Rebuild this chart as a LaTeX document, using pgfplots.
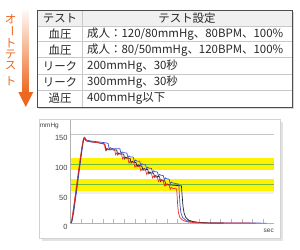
\documentclass[border=0pt]{standalone}
\usepackage{fontspec}
\setmainfont{Noto Sans CJK JP}
\newfontfamily\lat{Liberation Sans}
\usepackage{pgfplots}
\pgfplotsset{compat=1.18}
\definecolor{orA}{RGB}{236,104,32}
\definecolor{yel}{RGB}{255,242,0}
\definecolor{grn}{RGB}{110,190,60}
\definecolor{cred}{RGB}{235,45,45}
\definecolor{cblue}{RGB}{70,80,210}
\definecolor{cblk}{RGB}{35,35,35}
\definecolor{tline}{RGB}{200,200,200}
\definecolor{ttext}{RGB}{40,40,40}
\begin{document}
\begin{tikzpicture}
\path[use as bounding box] (0,0) rectangle (300bp,-250bp);
\begin{scope}[x=1bp,y=-1bp]
% arrow
\shade[top color=orA!4, bottom color=orA] (22.7,10) rectangle (28.3,93);
\fill[orA] (18.3,92) -- (33.3,92) -- (25.8,107) -- cycle;
% vertical text
\foreach \c/\yy in {オ/19, ト/43, テ/54.5, ス/66, ト/81.5}{
  \node[text=orA, font=\fontsize{11.5}{11.5}\selectfont, inner sep=0pt] at (10.5,\yy) {\c};
}
\node[text=orA, rotate=-90, font=\fontsize{11.5}{11.5}\selectfont, inner sep=0pt] at (10.5,31.5) {ー};
% table
\fill[gray!30] (39.2,11.5) rectangle (293.5,108.5);
\fill[white] (37.7,10) rectangle (292,107);
\fill[gray!12] (37.7,10) rectangle (292,26);
\draw[tline, line width=0.6] (37.7,26) -- (292,26) (37.7,41.7) -- (292,41.7) (37.7,57.7) -- (292,57.7) (37.7,74) -- (292,74) (37.7,90) -- (292,90) (82,10) -- (82,107);
\draw[gray!60!black, line width=0.8] (37.7,10) rectangle (292,107);
\begin{scope}[every node/.style={text=ttext, font=\fontsize{11.5}{11.5}\selectfont, inner sep=0pt}]
\node at (60,18) {テスト};
\node at (187,18) {テスト設定};
\node at (60,34.3) {血圧};
\node at (60,50) {血圧};
\node at (60,66) {リーク};
\node at (60,82) {リーク};
\node at (60,98.5) {過圧};
\node[anchor=west] at (87,34.3) {成人：120/80mmHg、80BPM、100\%};
\node[anchor=west] at (87,50) {成人：80/50mmHg、120BPM、100\%};
\node[anchor=west] at (87,66) {200mmHg、30秒};
\node[anchor=west] at (87,82) {300mmHg、30秒};
\node[anchor=west] at (87,98.5) {400mmHg以下};
\end{scope}
% panel
\fill[gray!22] (41.5,121.5) rectangle (283,241);
\fill[white] (39,119) rectangle (280,238);
\draw[gray!35, line width=0.5] (39,119) rectangle (280,238);
\node[font=\lat\fontsize{6.5}{7}\selectfont, text=black!75, inner sep=0pt] at (49.3,126) {mmHg};
\node[font=\lat\fontsize{6.5}{7}\selectfont, text=black!75, inner sep=0pt, anchor=east] at (274,230.7) {sec};
\end{scope}
\begin{axis}[
  at={(70.7bp,-223.3bp)}, anchor=south west,
  scale only axis, width=203.3bp, height=103.3bp,
  xmin=0, xmax=19, ymin=0, ymax=174.1,
  axis x line=bottom, axis y line=left,
  axis line style={-, gray!60, line width=0.6bp},
  x axis line style={-}, y axis line style={-},
  xtick={1,...,18}, xticklabels={},
  tick align=inside, major tick length=4bp,
  xtick style={gray!55, line width=0.5bp},
  ytick={0,50,100,150},
  ytick style={draw=none},
  yticklabel style={anchor=north east, xshift=-2bp, inner sep=1bp, text=black!75,
    font=\lat\fontsize{7.5}{8}\selectfont},
  /pgf/number format/assume math mode=true,
  clip=true,
]
\addplot[fill=yel, draw=none] coordinates {(0,90) (19,90) (19,110) (0,110)} -- cycle;
\addplot[fill=yel, draw=none] coordinates {(0,55) (19,55) (19,75) (0,75)} -- cycle;
\addplot[fill=gray!12, draw=none] coordinates {(0,50) (19,50) (19,55) (0,55)} -- cycle;
\addplot[grn, line width=0.8bp] coordinates {(0,100) (19,100)};
\addplot[grn, line width=0.8bp] coordinates {(0,65) (19,65)};
\addplot[gray!45, line width=0.6bp] coordinates {(0,150) (19,150)};
% blue
\addplot[cblue, line width=0.7bp, mark=none] coordinates {
(0,0) (0.12,3) (0.28,18) (0.45,40) (0.62,63) (0.8,88) (0.96,110) (1.1,128) (1.22,142) (1.3,145)
(1.5,140) (2,138.5) (2.7,137) (3.3,135.5) (3.5,134.5)
(3.6,124.5) (3.7,127.5) (3.82,126) (4.6,125.5)
(4.7,117.5) (4.8,120.5) (4.92,119) (5.25,118.5)
(5.35,110.5) (5.45,113.5) (5.57,112) (5.85,111.5)
(5.95,103.5) (6.05,106.5) (6.17,105) (6.45,104.5)
(6.55,97.5) (6.65,100.5) (6.77,99) (7.0,98.5)
(7.1,91.5) (7.2,94.5) (7.32,93) (7.55,92.5)
(7.65,85.5) (7.75,88.5) (7.87,87) (8.1,86.5)
(8.2,79.5) (8.3,82.5) (8.42,81) (8.65,80.5)
(8.75,73.5) (8.85,76.5) (8.97,75) (9.2,74.5)
(9.3,66.5) (9.4,69.5) (9.52,68) (10.1,66)
(10.15,50) (10.22,30) (10.3,18) (10.45,10) (10.7,6) (11,3.5) (11.5,2) (12.2,1) (13,0.6) (15,0.4) (17,0.4) (18.3,0.3)
};
% black
\addplot[cblk, line width=0.7bp, mark=none] coordinates {
(0,0) (0.1,4) (0.25,21) (0.42,44) (0.58,65) (0.75,88) (0.92,110) (1.07,129) (1.2,142) (1.27,143)
(1.45,139) (2,137) (2.5,136) (3.1,134) (3.2,133)
(3.3,122.5) (3.4,125.5) (3.52,124) (4.3,123.5)
(4.4,115.5) (4.5,118.5) (4.62,117) (4.95,116.5)
(5.05,108.5) (5.15,111.5) (5.27,110) (5.55,109.5)
(5.65,101.5) (5.75,104.5) (5.87,103) (6.1,102.5)
(6.2,95.5) (6.3,98.5) (6.42,97) (6.65,96.5)
(6.75,89.5) (6.85,92.5) (6.97,91) (7.2,90.5)
(7.3,83.5) (7.4,86.5) (7.52,85) (7.75,84.5)
(7.85,77.5) (7.95,80.5) (8.07,79) (8.3,78.5)
(8.4,70.5) (8.5,73.5) (8.62,72) (8.8,71.5)
(8.9,63.5) (9.0,66.5) (9.12,65) (10.35,63)
(10.42,45) (10.5,28) (10.6,17) (10.75,10) (11,5.5) (11.4,3) (12,1.5) (12.7,0.8) (13.5,0.5) (14.3,0.4)
};
% red
\addplot[cred, line width=0.7bp, mark=none] coordinates {
(0,0) (0.1,6) (0.25,24) (0.4,44) (0.55,64) (0.72,87) (0.88,108) (1.03,127) (1.18,142) (1.25,144.5)
(1.4,140) (1.6,138) (2.0,137) (2.5,136) (3.0,134) (3.15,133)
(3.25,123.5) (3.35,126.5) (3.47,125) (4.1,124.5)
(4.2,115.5) (4.3,118.5) (4.42,117) (4.75,116.5)
(4.85,108.5) (4.95,111.5) (5.07,110) (5.35,109.5)
(5.45,101.5) (5.55,104.5) (5.67,103) (5.9,102.5)
(6.0,94.5) (6.1,97.5) (6.22,96) (6.45,95.5)
(6.55,88.5) (6.65,91.5) (6.77,90) (7.0,89.5)
(7.1,82.5) (7.2,85.5) (7.32,84) (7.55,83.5)
(7.65,76.5) (7.75,79.5) (7.87,78) (8.1,77.5)
(8.2,70.5) (8.3,73.5) (8.42,72) (8.65,71.5)
(8.75,63.5) (8.85,66.5) (8.97,65) (9.2,64.5)
(9.3,57.5) (9.4,60.5) (9.52,59) (9.9,58)
(9.95,45) (10.0,30) (10.07,18) (10.2,10) (10.4,6) (10.7,3.5) (11.1,2) (11.7,1) (12.5,0.6) (14,0.4) (16,0.4) (17.3,0.3)
};
\end{axis}
\end{tikzpicture}
\end{document}
